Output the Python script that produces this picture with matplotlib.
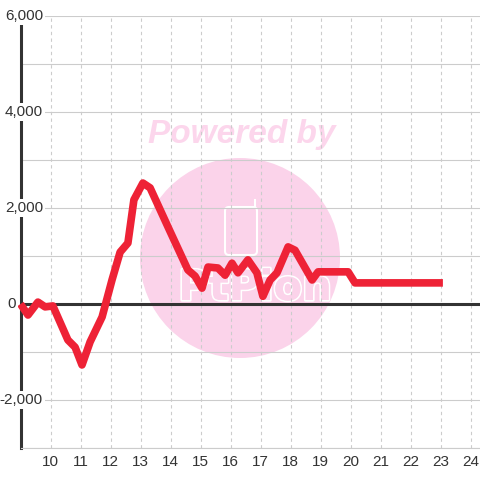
import matplotlib
matplotlib.use("Agg")
import matplotlib.pyplot as plt
from matplotlib import patches
from matplotlib.lines import Line2D
import matplotlib.patheffects as pe

# ---- data ----
hours = [9.0, 9.25, 9.58, 9.82, 10.08, 10.58, 10.82, 11.05, 11.32, 11.72, 12.05,
         12.32, 12.58, 12.78, 13.08, 13.32, 13.95, 14.58, 14.82, 15.05, 15.25,
         15.58, 15.82, 16.05, 16.25, 16.58, 16.88, 17.08, 17.32, 17.55, 17.92,
         18.15, 18.72, 18.92, 19.92, 20.15, 23.08]
values = [0, -230, 40, -60, -40, -750, -900, -1270, -790, -270, 500,
          1080, 1270, 2170, 2520, 2420, 1560, 710, 580, 330, 770,
          750, 600, 850, 650, 920, 650, 160, 500, 650, 1190,
          1120, 500, 670, 670, 440, 440]
x_ticks = list(range(10, 25))
x_labels = [str(h) for h in x_ticks]
y_grid = list(range(-3000, 6001, 1000))
y_ticks = [-2000, 0, 2000, 4000, 6000]
y_labels = ["-2,000", "0", "2,000", "4,000", "6,000"]

plt.rcParams['font.family'] = ['Liberation Sans', 'DejaVu Sans']

W = 480
fig = plt.figure(figsize=(4.8, 4.8), dpi=100)
fig.patch.set_facecolor('white')
ax = fig.add_axes([20.5 / W, 32 / W, 459.5 / W, 432 / W])
ax.set_xlim(9, 9 + 459.5 / 30)
ax.set_ylim(-3000, 6000)
ax.set_axisbelow(True)

ax.set_yticks(y_grid)
ax.set_yticklabels([])
ax.yaxis.grid(True, color='#cccccc', lw=0.8)
ax.set_xticks(x_ticks, x_labels)
ax.xaxis.grid(True, color='#cccccc', lw=0.8, linestyle=(0, (3, 3)))
ax.tick_params(axis='both', length=0)
ax.tick_params(axis='x', pad=5, labelsize=11, labelcolor='#333333')

for s in ['top', 'right']:
    ax.spines[s].set_visible(False)
ax.spines['bottom'].set_color('#cccccc')
ax.spines['bottom'].set_linewidth(0.8)
ax.spines['left'].set_color('#333333')
ax.spines['left'].set_linewidth(2.2)
ax.spines['left'].set_zorder(2.5)

# watermark
dt = fig.dpi_scale_trans
pink = '#fbd3ea'
ax.add_patch(patches.Circle((2.40, 4.8 - 2.58), 1.0, transform=dt,
                            facecolor=pink, edgecolor='none', zorder=0.2))
ax.text(2.42, 4.8 - 1.34, "Powered by", transform=dt, fontsize=24,
        fontweight='bold', fontstyle='italic', color='#fcd6ec',
        ha='center', va='center', zorder=0.3)
ax.add_patch(patches.FancyBboxPatch((2.25, 4.8 - 2.55), 0.32, 0.48,
                                    boxstyle='round,pad=0,rounding_size=0.04',
                                    fill=False, edgecolor='white', lw=1.5,
                                    transform=dt, zorder=0.3))
ax.add_line(Line2D([2.545, 2.545], [4.8 - 2.07, 4.8 - 2.00], color='white',
                   lw=1.5, transform=dt, zorder=0.3))
ax.text(2.55, 4.8 - 2.88, "PtPion", transform=dt, fontsize=30,
        color=pink, ha='center', va='center', zorder=0.3,
        family='DejaVu Sans', fontweight='bold',
        path_effects=[pe.withStroke(linewidth=2.5, foreground='white'),
                      pe.Normal()])

ax.axhline(0, color='#333333', lw=2.2, zorder=2)

ax.plot(hours, values, color='#ee2236', lw=5.5, solid_joinstyle='round',
        solid_capstyle='butt', zorder=3, clip_on=False)

# y tick labels, drawn over the axis line
ytrans = ax.get_yaxis_transform()
for v, lab in zip(y_ticks, y_labels):
    if v == 0:
        xpos, ha = (7 - 20.5) / 459.5, 'left'
    else:
        xpos, ha = (43 - 20.5) / 459.5, 'right'
    ax.text(xpos, v, lab, transform=ytrans, ha=ha, va='center',
            fontsize=11, color='#333333', zorder=4, clip_on=False,
            bbox=dict(facecolor='white', edgecolor='none', pad=1.5))

fig.savefig('out.png', dpi=100, facecolor='white')
